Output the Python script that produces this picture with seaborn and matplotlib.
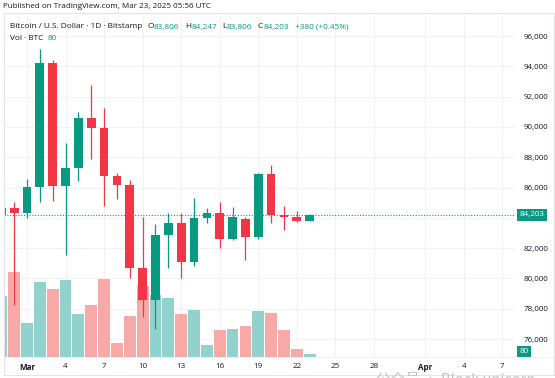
import numpy as np
import pandas as pd
import matplotlib.pyplot as plt
import matplotlib.transforms as mtransforms
import seaborn as sns

# days counted from Mar 1 (Feb 27 = -2)
days = [-2, -1, 0, 1, 2, 3, 4, 5, 6, 7, 8, 9, 10, 11, 12, 13, 14, 15, 16, 17, 18, 19, 20, 21, 22]
opens = [84190, 84650, 84320, 86030, 94240, 86120, 87270, 90570, 89910, 86760, 86170, 80710, 78580,
         82870, 83660, 81100, 83970, 84340, 82580, 83950, 82730, 86870, 84170, 84050, 83806]
highs = [86900, 85050, 86540, 95120, 94420, 88920, 91000, 92770, 91230, 86940, 86500, 84030, 83590,
         84340, 84340, 85290, 84670, 85040, 84730, 84040, 86980, 87500, 84780, 84470, 84247]
lows = [82700, 78250, 83990, 85060, 85110, 81550, 86430, 87860, 84780, 85220, 80050, 77470, 76640,
        80670, 80010, 80820, 83680, 82030, 82540, 81220, 82600, 83680, 83200, 83740, 83806]
closes = [84650, 84300, 86030, 94240, 86120, 87270, 90570, 89910, 86760, 86170, 80710, 78580, 82870,
          83660, 81100, 83970, 84340, 82580, 84030, 82730, 86870, 84170, 84050, 83810, 84203]
volumes = [1820, 2550, 1030, 2240, 2050, 2300, 1300, 1560, 2340, 410, 1220, 2120, 1870, 1760,
           1300, 1420, 350, 820, 850, 920, 1370, 1330, 810, 230, 80]

tick_pos = [0, 3, 6, 9, 12, 15, 18, 21, 24, 27, 31, 34, 37]
tick_labels = ["Mar", "4", "7", "10", "13", "16", "19", "22", "25", "28", "Apr", "4", "7"]
grid_prices = list(range(76000, 96001, 2000))
label_prices = [76000, 78000, 80000, 82000, 86000, 88000, 90000, 92000, 94000, 96000]

last_price = 84203
last_volume = 80

up = "#089981"
down = "#f23645"
vol_up = "#92d2cc"
vol_down = "#f7a9a7"
txt = "#131722"
grid_c = "#f0f2f5"

sns.set_theme(style="white")
plt.rcParams["font.family"] = ["Open Sans", "DejaVu Sans"]
fs = 5.8

W, H = 555, 378
fig = plt.figure(figsize=(W / 100, H / 100), dpi=100)
fig.patch.set_facecolor("white")

# pane: x 4..515 px, y 13..357 px
ax_v = fig.add_axes([4 / W, (H - 357) / H, 511 / W, 344 / H])
ax_p = ax_v.twinx()

df = pd.DataFrame({"day": days, "open": opens, "high": highs, "low": lows,
                   "close": closes, "volume": volumes})
df["dir"] = np.where(df["close"] >= df["open"], "up", "down")

# volume
sns.barplot(data=df, x="day", y="volume", hue="dir", palette={"up": vol_up, "down": vol_down},
            native_scale=True, dodge=False, width=0.92, errorbar=None, saturation=1,
            linewidth=0, legend=False, ax=ax_v)
ax_v.set_xlim(-1.79, 37.98)
ax_v.set_ylim(0, 10320)
ax_v.set_xlabel("")
ax_v.set_ylabel("")
ax_v.set_yticks([])
ax_v.set_xticks(tick_pos)
ax_v.set_xticklabels(tick_labels)
for lab in ax_v.get_xticklabels():
    lab.set_fontsize(fs)
    lab.set_color(txt)
    if lab.get_text() in ("Mar", "Apr"):
        lab.set_fontweight("bold")
ax_v.tick_params(axis="x", length=0, pad=4.5)
ax_v.grid(axis="x", color=grid_c, lw=0.8)
ax_v.set_axisbelow(True)
for s in ax_v.spines.values():
    s.set_visible(False)

# horizontal grid lines drawn below the volume bars
blend = mtransforms.blended_transform_factory(ax_v.transAxes, ax_p.transData)
for t in grid_prices:
    ax_v.plot([0, 1], [t, t], transform=blend, color=grid_c, lw=0.8, zorder=0)

# candles
colors = [up if d == "up" else down for d in df["dir"]]
ax_p.vlines(df["day"], df["low"], df["high"], colors=colors, lw=0.9, zorder=2)
body_lo = np.minimum(df["open"], df["close"])
body_h = np.abs(df["close"] - df["open"])
ax_p.bar(df["day"], body_h, bottom=body_lo, width=0.68, color=colors, linewidth=0, zorder=3)
ax_p.axhline(last_price, color=up, lw=0.8, ls=(0, (1, 1.5)), zorder=1)
ax_p.set_ylim(74814, 97518)
ax_p.set_yticks(label_prices)
ax_p.set_yticklabels([f"{t:,}" for t in label_prices])
ax_p.tick_params(axis="y", length=0, pad=6.2, labelsize=fs, labelcolor=txt)
for s in ax_p.spines.values():
    s.set_visible(False)

# price and volume tags on the scale
tag_tr = mtransforms.blended_transform_factory(ax_p.transAxes, ax_p.transData)
ax_p.annotate(f"{last_price:,}", xy=(1, last_price), xycoords=tag_tr, xytext=(3.5, 0),
              textcoords="offset points", ha="left", va="center", fontsize=fs, color="white",
              bbox=dict(boxstyle="square,pad=0.3", fc=up, ec="none"), annotation_clip=False)
vtag_tr = mtransforms.blended_transform_factory(ax_v.transAxes, ax_v.transData)
ax_v.annotate(f"{last_volume}", xy=(1, last_volume), xycoords=vtag_tr, xytext=(3.5, 2),
              textcoords="offset points", ha="left", va="center", fontsize=fs, color="white",
              bbox=dict(boxstyle="square,pad=0.3", fc=up, ec="none"), annotation_clip=False)

# frame
fig.add_artist(plt.Rectangle((4 / W, 3 / H), 550 / W, 362 / H, transform=fig.transFigure,
                             fill=False, ec="#e0e3eb", lw=0.8))
fig.add_artist(plt.Line2D([4 / W, 554 / W], [(H - 357) / H] * 2, transform=fig.transFigure,
                          color="#eef0f3", lw=0.8))

# header
fig.text(3 / W, 1 - 6.7 / H, "Published on TradingView.com, Mar 23, 2025 05:56 UTC",
         fontsize=5.8, color=txt, va="center", ha="left")


def header_line(x, y, parts, size):
    prev = None
    for text, color, gap in parts:
        if prev is None:
            prev = ax_p.annotate(text, xy=(x, H - y), xycoords="figure pixels", ha="left",
                                 va="baseline", fontsize=size, color=color, annotation_clip=False)
        else:
            prev = ax_p.annotate(text, xy=(1, H - y), xycoords=(prev, "figure pixels"),
                                 xytext=(gap, 0), textcoords="offset points", ha="left",
                                 va="baseline", fontsize=size, color=color, annotation_clip=False)


header_line(10, 28.5, [("Bitcoin / U.S. Dollar · 1D · Bitstamp", txt, 0),
                       ("O", txt, 3.5), ("83,806", up, 0.3),
                       ("H", txt, 3.8), ("84,247", up, 0.3),
                       ("L", txt, 3.8), ("83,806", up, 0.3),
                       ("C", txt, 3.8), ("84,203", up, 0.3),
                       ("+380 (+0.45%)", up, 4.5)], 5.95)
header_line(10, 40.5, [("Vol · BTC", txt, 0), ("80", up, 3.5)], 5.95)

# watermark
fig.text(376 / W, 1 - 373 / H, "公众号 · Block unicorn", fontsize=10.5, color="#c4c4c4",
         va="top", ha="left", family=["Noto Sans CJK SC", "DejaVu Sans"])

fig.savefig("out.png", dpi=100)
